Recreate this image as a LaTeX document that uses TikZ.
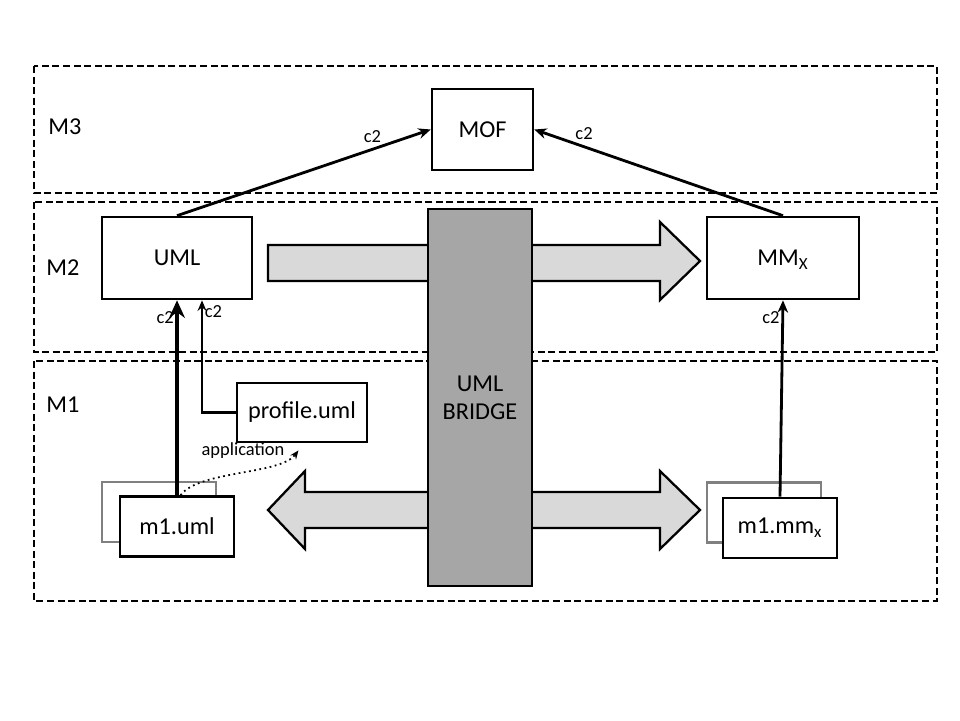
\documentclass[tikz,border=0pt]{standalone}
\usepackage{fontspec}
\setmainfont{Carlito}
\usetikzlibrary{calc,arrows.meta}

\definecolor{bridgegray}{HTML}{A6A6A6}
\definecolor{arrowgray}{HTML}{D9D9D9}
\definecolor{shadowgray}{HTML}{808080}

\tikzset{
  box/.style={draw, line width=1.5pt, fill=white, inner sep=0pt, font=\fontsize{13.8}{16}\selectfont},
  shadowbox/.style={draw=shadowgray, line width=1.5pt, minimum width=2.28cm, minimum height=1.2cm},
  layer/.style={draw, line width=0.9pt, dash pattern=on 4pt off 2pt},
  lab/.style={font=\fontsize{10.5}{12}\selectfont, inner sep=1pt},
  layerlab/.style={font=\fontsize{13.8}{16}\selectfont},
  inst/.style={line width=1.6pt, -{Stealth[length=7pt,width=6pt]}},
  blockarrow/.style={draw, line width=1.3pt, fill=arrowgray}
}

\begin{document}
\begin{tikzpicture}[x=0.02cm, y=-0.02cm]
  \useasboundingbox (0,0) rectangle (960,720);

  % meta levels
  \draw[layer] (34,66) rectangle (937,193);
  \draw[layer] (34,202) rectangle (937,352);
  \draw[layer] (34,361) rectangle (937,601);
  \node[layerlab] (m3) at (65,127) {M3};
  \node[layerlab] (m2) at (63,268) {M2};
  \node[layerlab] (m1) at (63,405) {M1};

  % transformation arrows
  \draw[blockarrow] (268,245) -- (660,245) -- (660,222) -- (700,261) -- (660,300) -- (660,281) -- (268,281) -- cycle;
  \draw[blockarrow] (268,510) -- (305,471) -- (305,492) -- (660,492) -- (660,471) -- (700,510)
                    -- (660,549) -- (660,528) -- (305,528) -- (305,549) -- cycle;

  \node[box, fill=bridgegray, minimum width=2.08cm, minimum height=7.54cm, align=center] (bridge) at (480,397.5) {UML\\BRIDGE};

  % models
  \node[box, minimum width=2.02cm, minimum height=1.62cm] (mof) at (482.5,129.5) {MOF};
  \node[box, minimum width=3cm, minimum height=1.64cm] (uml) at (177,258) {UML};
  \node[box, minimum width=3.04cm, minimum height=1.64cm] (mmx) at (783,258) {\raisebox{0pt}[\height][0pt]{MM\textsubscript{X}}};
  \node[box, minimum width=2.6cm, minimum height=1.18cm] (profile) at (302,412.5) {profile.uml};

  \node[shadowbox] (m1umlback) at (159,512) {};
  \node[box, minimum width=2.28cm, minimum height=1.2cm] (m1uml) at (177,526.5) {m1.uml};
  \node[shadowbox] (m1mmxback) at (764,512.5) {};
  \node[box, minimum width=2.28cm, minimum height=1.2cm] (m1mmx) at (780,528) {m1.mm\textsubscript{x}};

  % conformance
  \draw[inst] (uml.north) -- node[lab, pos=0.77, above=2pt] {c2} (mof.west);
  \draw[inst] (mmx.north) -- node[lab, pos=0.8, above=2pt] {c2} (mof.east);
  \draw[line width=1.8pt, -{Stealth[length=10pt,width=9pt]}] (m1uml.north) -- node[lab, pos=0.91, left] {c2} (uml.south);
  \draw[line width=1.3pt, -{Stealth[length=6pt,width=5pt]}] (profile.west) -| node[lab, pos=0.95, right] {c2} ([xshift=0.5cm]uml.south);
  \draw[inst] (m1mmx.north) -- node[lab, pos=0.91, left] {c2} (mmx.south);

  % profile application
  \draw[line width=1pt, dotted, -{Stealth[length=5pt,width=4pt]}] ([xshift=2pt]m1uml.north) .. controls (200,470) and (280,475) .. ([xshift=-2pt,yshift=-4pt]profile.south);
  \node[lab] (applab) at (243,451) {application};
\end{tikzpicture}
\end{document}
